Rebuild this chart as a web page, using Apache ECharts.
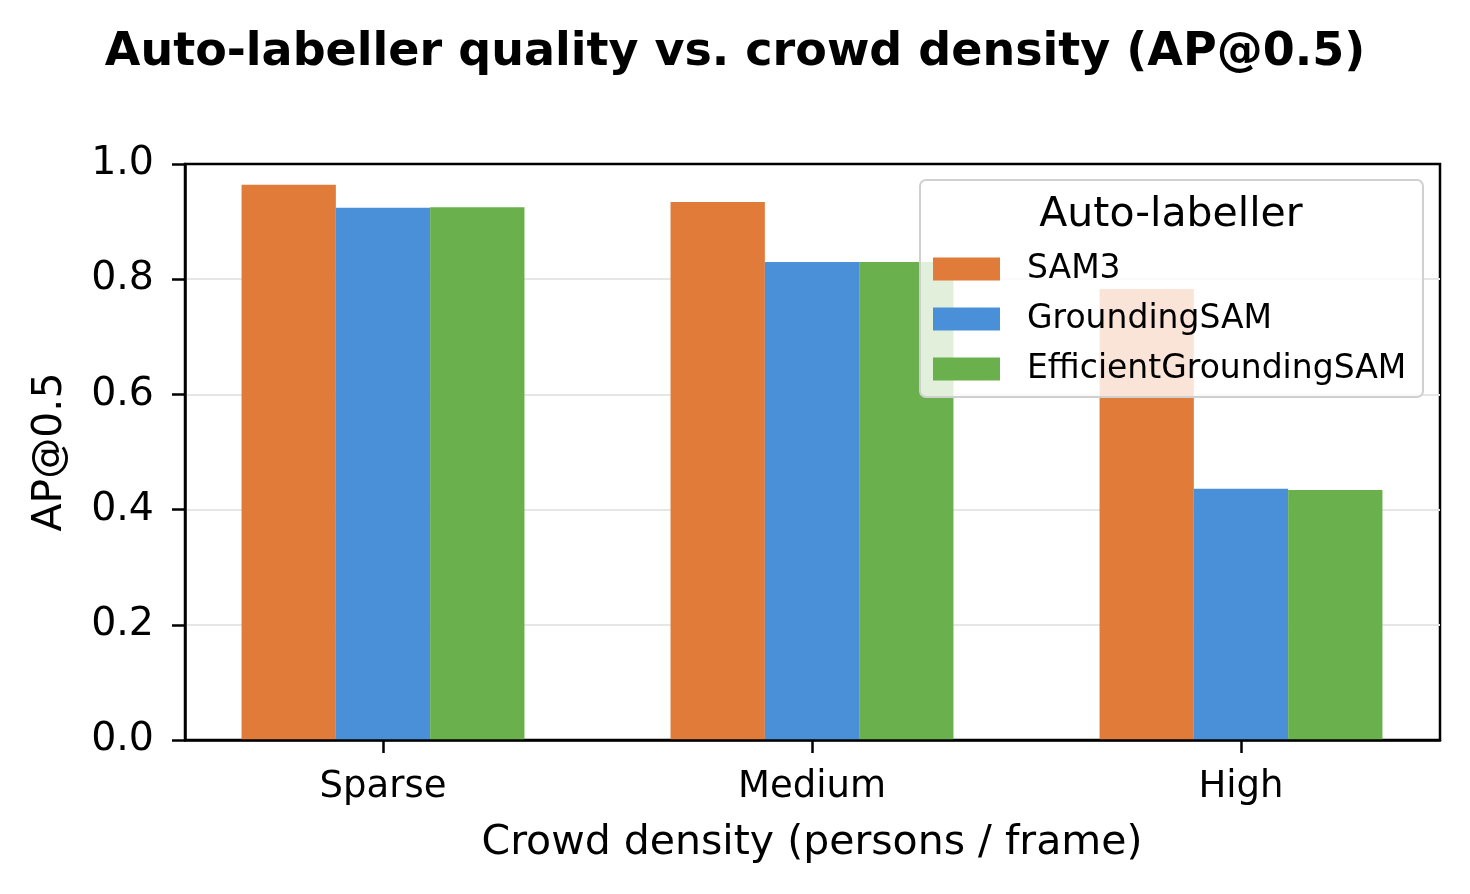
<!DOCTYPE html>
<html>
<head>
<meta charset="utf-8"/>
<title>Auto-labeller quality vs. crowd density</title>
<script src="https://cdn.jsdelivr.net/npm/echarts@6/dist/echarts.min.js"></script>
<style>
  html, body { margin: 0; padding: 0; background: #fff; }
  #main { width: 1470px; height: 894px; }
</style>
</head>
<body>
<div id="main"></div>
<script type="text/javascript">
// chart data
var categories = ['Sparse', 'Medium', 'High'];
var sam3 = [0.964, 0.934, 0.783];
var groundingSam = [0.924, 0.830, 0.436];
var efficientGroundingSam = [0.925, 0.830, 0.434];
var seriesNames = ['SAM3', 'GroundingSAM', 'EfficientGroundingSAM'];
var seriesColors = ['#e07b39', '#4a90d9', '#6ab04c'];

var FONT = 'DejaVu Sans';
var myChart = echarts.init(document.getElementById('main'));

var option = {
    animation: false,
    backgroundColor: '#fff',
    title: {
        text: 'Auto-labeller quality vs. crowd density (AP@0.5)',
        left: 'center',
        top: 30,
        padding: 0,
        textStyle: { fontFamily: FONT, fontWeight: 'bold', fontSize: 46, color: '#000' }
    },
    // grid 0 = axes frame, grid 1 = bar bands (matplotlib-like x margins)
    grid: [
        { left: 185, top: 164, width: 1255, height: 576, show: true,
          borderColor: '#000', borderWidth: 2.5, backgroundColor: 'transparent' },
        { left: 168.5, top: 164, width: 1287, height: 576 }
    ],
    legend: {
        data: seriesNames,
        orient: 'vertical',
        left: 933,
        top: 252.5,
        padding: 0,
        itemWidth: 67,
        itemHeight: 23,
        itemGap: 17,
        icon: 'rect',
        z: 20,
        textStyle: { fontFamily: FONT, fontSize: 33, color: '#000', lineHeight: 33, padding: [0, 0, 0, 22] }
    },
    graphic: [
        { type: 'rect', z: 10, shape: { x: 920, y: 180, width: 503, height: 217, r: 6 },
          style: { fill: 'rgba(255,255,255,0.8)', stroke: '#d0d0d0', lineWidth: 2 } },
        { type: 'text', z: 11, x: 1171, y: 215,
          style: { text: 'Auto-labeller', font: '41px "DejaVu Sans"', fill: '#000',
                   textAlign: 'center', textVerticalAlign: 'middle' } }
    ],
    xAxis: [
        { type: 'category', gridIndex: 0, data: categories, z: 5,
          axisLine: { show: true, lineStyle: { color: '#000', width: 2.5 } },
          axisTick: { show: false }, axisLabel: { show: false }, splitLine: { show: false } },
        { type: 'category', gridIndex: 1, data: categories, boundaryGap: true,
          name: 'Crowd density (persons / frame)',
          nameLocation: 'middle', nameGap: 83,
          nameTextStyle: { fontFamily: FONT, fontSize: 41, color: '#000' },
          axisLine: { show: true, lineStyle: { color: 'rgba(0,0,0,0)' } },
          axisTick: { show: true, alignWithLabel: true, length: 13, lineStyle: { color: '#000', width: 2.5 } },
          axisLabel: { fontFamily: FONT, fontSize: 37, color: '#000', margin: 29 },
          splitLine: { show: false } }
    ],
    yAxis: [
        { type: 'value', gridIndex: 0, min: 0, max: 1, interval: 0.2,
          name: 'AP@0.5', nameLocation: 'middle', nameGap: 114, nameRotate: 90,
          nameTextStyle: { fontFamily: FONT, fontSize: 41, color: '#000' },
          axisLine: { show: true, lineStyle: { color: '#000', width: 2.5 } },
          axisTick: { show: true, length: 13, lineStyle: { color: '#000', width: 2.5 } },
          axisLabel: { fontFamily: FONT, fontSize: 39.5, color: '#000', margin: 31,
                       formatter: function (v) { return v.toFixed(1); } },
          splitLine: { show: true, showMinLine: false, showMaxLine: false,
                       lineStyle: { color: '#e6e6e6', width: 2 } } },
        { type: 'value', gridIndex: 1, min: 0, max: 1, show: false, splitLine: { show: false } }
    ],
    series: [
        { name: seriesNames[0], type: 'bar', xAxisIndex: 1, yAxisIndex: 1, data: sam3,
          barWidth: 94.3, barGap: '0%', itemStyle: { color: seriesColors[0] } },
        { name: seriesNames[1], type: 'bar', xAxisIndex: 1, yAxisIndex: 1, data: groundingSam,
          barWidth: 94.3, barGap: '0%', itemStyle: { color: seriesColors[1] } },
        { name: seriesNames[2], type: 'bar', xAxisIndex: 1, yAxisIndex: 1, data: efficientGroundingSam,
          barWidth: 94.3, barGap: '0%', itemStyle: { color: seriesColors[2] } }
    ]
};

myChart.setOption(option);
window.onresize = function () {
    myChart.resize();
};
</script>
</body>
</html>
